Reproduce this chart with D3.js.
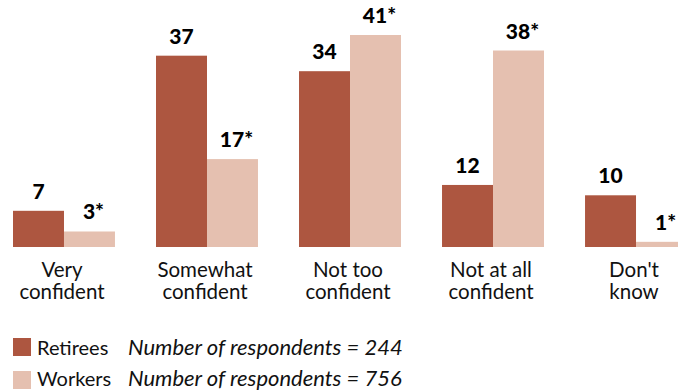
<!DOCTYPE html>
<html><head><meta charset="utf-8">
<script src="https://cdn.jsdelivr.net/npm/d3@7"></script>
<style>body{margin:0;background:#fff}svg{display:block}text{font-family:"Lato","Open Sans",sans-serif}</style>
</head><body><svg id="c" width="678" height="390"></svg>
<script>
const categories = [["Very","confident"],["Somewhat","confident"],["Not too","confident"],["Not at all","confident"],["Don't","know"]];
const retirees = [7, 37, 34, 12, 10];
const workers = [3, 17, 41, 38, 1];
const workerLabels = ["3*","17*","41*","38*","1*"];
const retireeLabels = ["7","37","34","12","10"];
const seriesNames = ["Retirees","Workers"];
const notes = ["Number of respondents = 244","Number of respondents = 756"];
const colors = ["#ad5640","#e5c0b0"];

const svg = d3.select("#c");
const base = 247;
const x = d3.scaleBand().domain(d3.range(categories.length)).range([13, 687]).paddingInner(0.287).paddingOuter(0);
const xs = d3.scaleBand().domain([0,1]).range([0, x.bandwidth()]);
const y = d3.scaleLinear().domain([0, 41]).range([base, 35]);

const data = [retirees, workers];
const labs = [retireeLabels, workerLabels];
data.forEach((arr, s) => {
  const g = svg.append("g");
  g.selectAll("rect").data(arr).join("rect")
    .attr("x", (d,i) => x(i) + xs(s)).attr("width", xs.bandwidth())
    .attr("y", d => y(d)).attr("height", d => base - y(d)).attr("fill", colors[s]);
  g.selectAll("text").data(arr).join("text")
    .attr("x", (d,i) => x(i) + xs(s) + xs.bandwidth()/2 + (s ? 4 : 0))
    .attr("y", d => y(d) - 12)
    .attr("text-anchor","middle").attr("font-size", 21).attr("font-weight", 900).attr("fill","#000")
    .text((d,i) => labs[s][i]);
});

categories.forEach((c, i) => {
  c.forEach((line, j) => svg.append("text").attr("text-anchor","middle").attr("font-size",20.5).attr("fill","#111")
    .attr("x", x(i) + x.bandwidth()/2 - 2).attr("y", 277 + j*22).text(line));
});

seriesNames.forEach((n, s) => {
  const yy = 338 + s*33;
  svg.append("rect").attr("x", 13).attr("y", yy).attr("width", 18).attr("height", 18).attr("fill", colors[s]);
  svg.append("text").attr("x", 37).attr("y", yy + 17 - s*2).attr("font-size", 20).attr("fill","#111").text(n);
  svg.append("text").attr("x", 128).attr("y", yy + 17 - s*2).attr("font-size", 22).attr("font-style","italic").attr("fill","#111").text(notes[s]);
});
</script></body></html>
